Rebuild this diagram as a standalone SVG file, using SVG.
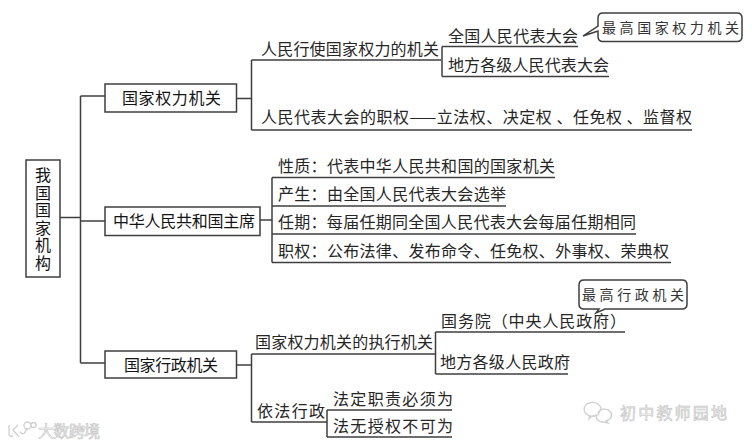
<svg xmlns="http://www.w3.org/2000/svg" width="752" height="445" viewBox="0 0 752 445">
<style>
text{font-family:"Noto Sans CJK SC","Noto Sans",sans-serif;font-size:16px;fill:#262626}
.b{fill:#141414}
.c{font-size:14px;fill:#333}
.w{font-size:16px;fill:#f8f8f8;stroke:#c2c2c2;stroke-width:.6}
rect,path{fill:none;stroke:#3f3f3f;stroke-width:1.5}
.box{fill:#fff}
.mark{stroke:#cfcfcf;stroke-width:1.3}
</style>
<rect width="752" height="445" style="fill:#fff;stroke:none"/>
<g id="connectors">
<path d="M60 217.500H80.500M80.500 96V363M80.500 96H105M80.500 221H105M80.500 363H105"/>
<path d="M236 98.500H251.500M251.500 60V130M251.500 60H441M251.500 130H692"/>
<path d="M442 76.500V46.500M442 46.500H578M442 76.500H609"/>
<path d="M260 220H272M272 177.500V262.500M272 177.500H555M272 206H506M272 234H636M272 262.500H671"/>
<path d="M236 365H251.500M251.500 354V422M251.500 354H435.500M251.500 422H327"/>
<path d="M435.500 374V332M435.500 332H625M435.500 374H568"/>
<path d="M327 437V410M327 410H452M327 437H452"/>
</g>
<g id="root"><rect class="box" x="26" y="160" width="34" height="117"/>
<text class="b" x="43" y="167" style="writing-mode:vertical-rl;letter-spacing:1.500px">我国国家机构</text></g>
<g id="n1"><rect class="box" x="105" y="84" width="131.500" height="28"/><text class="b" x="122" y="104" textLength="99">国家权力机关</text></g>
<g id="n2"><rect class="box" x="105" y="207" width="155" height="28.500"/><text class="b" x="113" y="227" textLength="142">中华人民共和国主席</text></g>
<g id="n3"><rect class="box" x="105" y="351" width="131.500" height="27"/><text class="b" x="124" y="371" textLength="94">国家行政机关</text></g>
<g id="t1"><text x="261" y="55" textLength="178">人民行使国家权力的机关</text></g>
<g id="t2"><text x="261" y="123" textLength="431">人民代表大会的职权——立法权、决定权 、任免权 、监督权</text></g>
<g id="t3"><text x="448" y="42" textLength="130">全国人民代表大会</text></g>
<g id="t4"><text x="448" y="71" textLength="161">地方各级人民代表大会</text></g>
<g id="callout1"><path class="box" d="M603 13H737Q742 13 742 18V36.500Q742 41.500 737 41.500H603Q598 41.500 598 36.500V31L583 36L598 26V18Q598 13 603 13Z"/><text class="c" x="602" y="33" textLength="137">最高国家权力机关</text></g>
<g id="t5"><text x="278" y="172" textLength="277">性质：代表中华人民共和国的国家机关</text></g>
<g id="t6"><text x="278" y="200" textLength="228">产生：由全国人民代表大会选举</text></g>
<g id="t7"><text x="278" y="228" textLength="358">任期：每届任期同全国人民代表大会每届任期相同</text></g>
<g id="t8"><text x="278" y="257" textLength="391">职权：公布法律、发布命令、任免权、外事权、荣典权</text></g>
<g id="t9"><text x="255" y="348" textLength="178">国家权力机关的执行机关</text></g>
<g id="t10"><text x="257" y="417" textLength="68">依法行政</text></g>
<g id="t11"><text x="441" y="327" textLength="185">国务院（中央人民政府）</text></g>
<g id="t12"><text x="440" y="368" textLength="130">地方各级人民政府</text></g>
<g id="t13"><text x="333" y="405" textLength="120">法定职责必须为</text></g>
<g id="t14"><text x="333" y="432" textLength="120">法无授权不可为</text></g>
<g id="callout2"><path class="box" d="M584 280H682Q687 280 687 285V304Q687 309 682 309H605L596 313L599 309H584Q579 309 579 304V285Q579 280 584 280Z"/><text class="c" x="582" y="300" textLength="102">最高行政机关</text></g>
<path class="mark" d="M9 425V434Q9 437 13 436M18 425L13 430L19 437M20 432Q24 437 27 428"/>
<path class="mark" d="M24 425.500a3.500 3.500 0 1 0 7 0a3.500 3.500 0 1 0-7 0M31 425a2.500 2.500 0 1 0 5 0a2.500 2.500 0 1 0-5 0"/>
<text class="w" x="38" y="437" textLength="62">大数跨境</text>
<path class="mark" d="M595 416A8.500 7 0 1 1 601 408.500L598 415L592 416L589 419L589.500 415M598 413A7 6 0 1 1 606 421L608 423L603 422A7 6 0 0 1 596 416"/>
<text class="w" x="620" y="419" textLength="107">初中教师园地</text>
</svg>
